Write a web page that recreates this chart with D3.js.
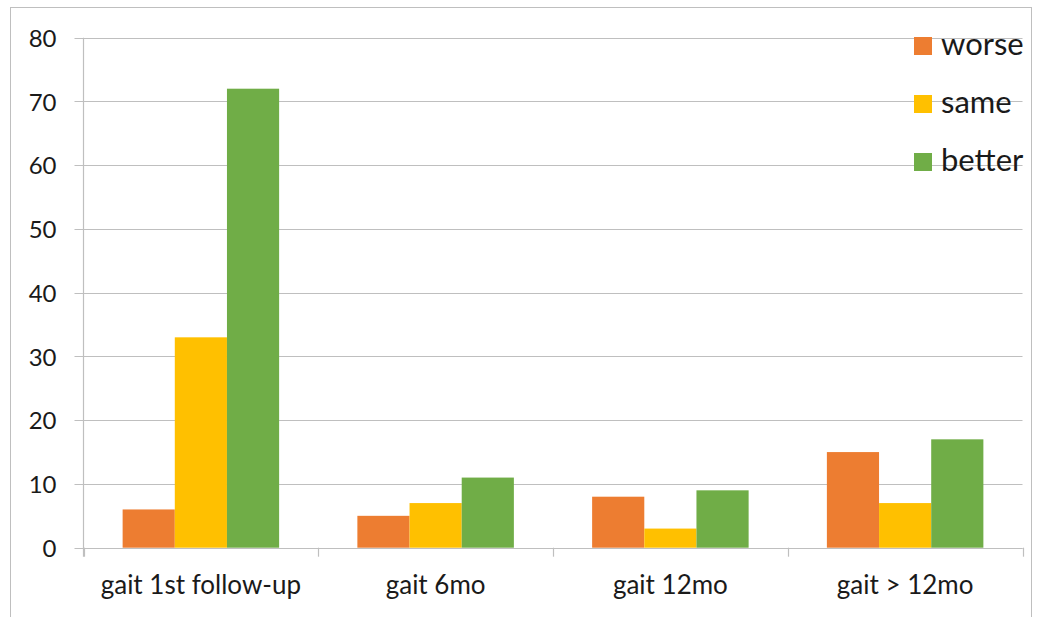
<!DOCTYPE html>
<html>
<head>
<meta charset="utf-8">
<script src="https://cdn.jsdelivr.net/npm/d3@7"></script>
<style>
  html, body { margin: 0; padding: 0; background: #fff; }
  svg { display: block; font-family: Lato, "Liberation Sans", sans-serif; }
</style>
</head>
<body>
<svg id="chart" width="1045" height="617"></svg>
<script>
// Gait outcome counts per follow-up period
const categories = ["gait 1st follow-up", "gait 6mo", "gait 12mo", "gait > 12mo"];
const seriesNames = ["worse", "same", "better"];
const worse  = [6, 5, 8, 15];
const same   = [33, 7, 3, 7];
const better = [72, 11, 9, 17];
const yTicks = [0, 10, 20, 30, 40, 50, 60, 70, 80];
const colors = ["#ED7D31", "#FFC000", "#70AD47"];

const seriesValues = [worse, same, better];

const svg = d3.select("#chart");

// outer frame
svg.append("rect")
  .attr("x", 10.5).attr("y", 7.5)
  .attr("width", 1021).attr("height", 640)
  .attr("fill", "none").attr("stroke", "#bfbfbf").attr("stroke-width", 1);

const plot = { left: 83.5, right: 1022.5, top: 37.7, bottom: 547.7 };

// one band per category; inside it 3 bars plus a 1.5-bar gap
const catBand = d3.scaleBand().domain(categories).range([plot.left, plot.right]);
const x1 = d3.scaleBand()
  .domain(seriesNames)
  .range([0, catBand.bandwidth()])
  .paddingInner(0)
  .paddingOuter(0.75);

const y = d3.scaleLinear().domain([0, 80]).range([plot.bottom, plot.top]);

// horizontal gridlines with short ticks left of the axis
svg.append("g").selectAll("line")
  .data(yTicks)
  .join("line")
  .attr("x1", plot.left - 9).attr("x2", plot.right)
  .attr("y1", d => Math.round(y(d)) + 0.5).attr("y2", d => Math.round(y(d)) + 0.5)
  .attr("stroke", "#bfbfbf").attr("stroke-width", 1.2);

// y axis labels
const yAxis = d3.axisLeft(y).tickValues(yTicks).tickSize(0).tickPadding(0);
const yg = svg.append("g")
  .attr("transform", `translate(${plot.left - 27},0)`)
  .call(yAxis);
yg.select(".domain").remove();
yg.selectAll("text")
  .attr("font-family", "Lato, sans-serif")
  .attr("font-size", 24)
  .attr("fill", "#1a1a1a")
  .attr("dy", "0.36em");

// bars
const groups = svg.append("g").selectAll("g")
  .data(categories)
  .join("g")
  .attr("transform", d => `translate(${catBand(d)},0)`);

groups.selectAll("rect")
  .data((c, i) => seriesNames.map((s, k) => ({ s, v: seriesValues[k][i], k })))
  .join("rect")
  .attr("x", d => x1(d.s))
  .attr("width", x1.bandwidth())
  .attr("y", d => y(d.v))
  .attr("height", d => y(0) - y(d.v))
  .attr("fill", d => colors[d.k]);

// x axis line and category ticks
const xAxis = svg.append("g");
xAxis.append("line")
  .attr("x1", plot.left).attr("x2", plot.right)
  .attr("y1", Math.round(y(0)) + 0.5).attr("y2", Math.round(y(0)) + 0.5)
  .attr("stroke", "#bfbfbf").attr("stroke-width", 1.2);
const tickXs = categories.map(c => catBand(c)).concat([plot.right]);
xAxis.selectAll("line.tick")
  .data(tickXs)
  .join("line")
  .attr("class", "tick")
  .attr("x1", d => Math.round(d) + 0.5).attr("x2", d => Math.round(d) + 0.5)
  .attr("y1", y(0)).attr("y2", y(0) + 9)
  .attr("stroke", "#bfbfbf").attr("stroke-width", 1.2);
// y axis line
svg.append("line")
  .attr("x1", plot.left).attr("x2", plot.left)
  .attr("y1", plot.top).attr("y2", y(0) + 9)
  .attr("stroke", "#bfbfbf").attr("stroke-width", 1.2);

// category labels
svg.append("g").selectAll("text")
  .data(categories)
  .join("text")
  .attr("x", d => catBand(d) + catBand.bandwidth() / 2)
  .attr("y", 594)
  .attr("text-anchor", "middle")
  .attr("font-size", 26)
  .attr("fill", "#1a1a1a")
  .text(d => d);

// legend
const legend = svg.append("g").selectAll("g")
  .data(seriesNames)
  .join("g")
  .attr("transform", (d, i) => `translate(914,${46 + i * 58})`);
legend.append("rect")
  .attr("x", 0).attr("y", -9)
  .attr("width", 18).attr("height", 18)
  .attr("fill", (d, i) => colors[i]);
legend.append("text")
  .attr("x", 27).attr("y", 8.5)
  .attr("font-size", 31)
  .attr("fill", "#1a1a1a")
  .text(d => d);
</script>
</body>
</html>
